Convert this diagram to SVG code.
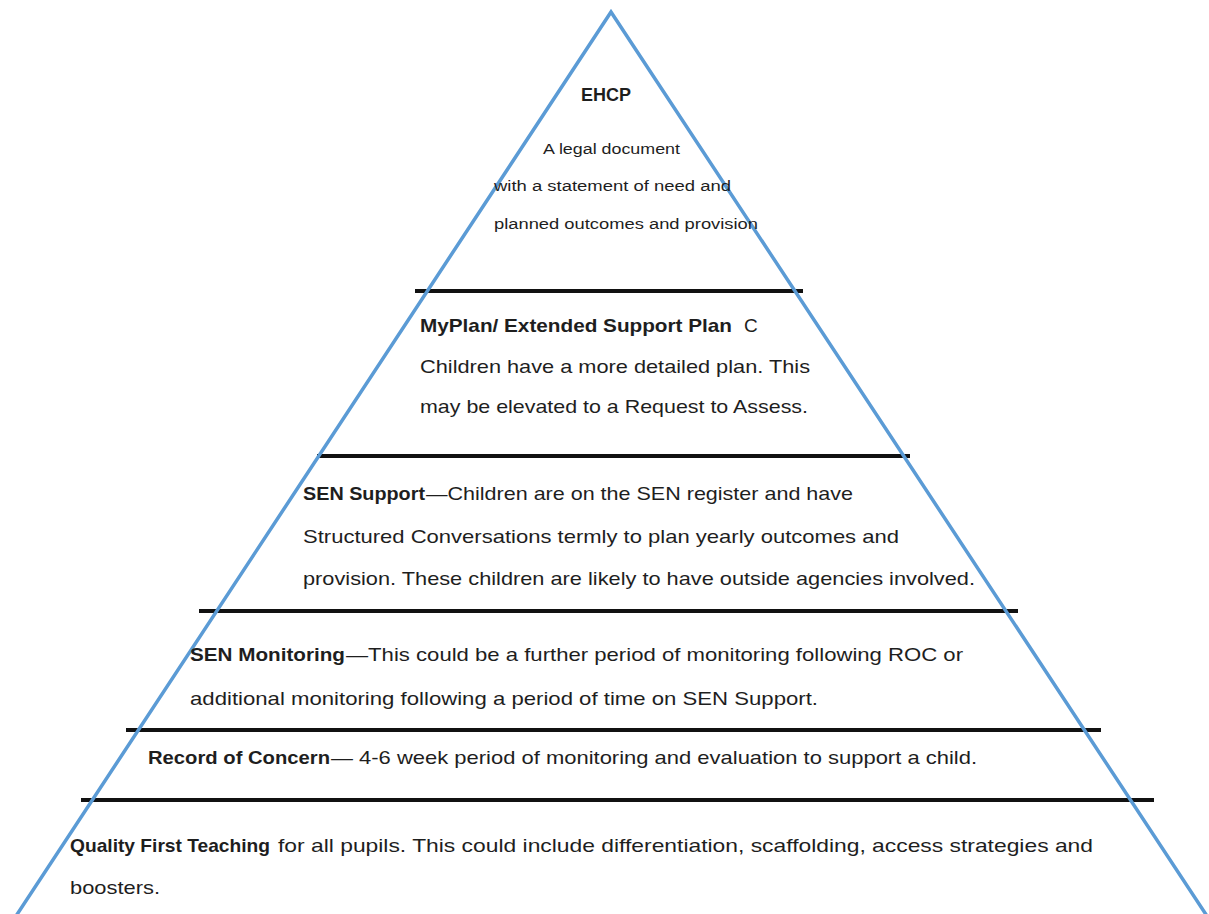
<svg xmlns="http://www.w3.org/2000/svg" width="1209" height="914" viewBox="0 0 1209 914">
<style>
.t{font-family:"Liberation Sans",Arial,sans-serif;fill:#1e1e1e;font-size:19px}
.s{font-size:14px}
.b{font-weight:bold}
.sep{stroke:#111;stroke-width:4;fill:none}
.tri{stroke:#5b9bd5;stroke-width:3.5;fill:none}
</style>
<rect width="1209" height="914" fill="#fff"/>
<g id="connectors">
<line class="sep" x1="415" y1="291" x2="803" y2="291"/>
<line class="sep" x1="317" y1="456" x2="910" y2="456"/>
<line class="sep" x1="199" y1="611" x2="1018" y2="611"/>
<line class="sep" x1="126" y1="730" x2="1101" y2="730"/>
<line class="sep" x1="81" y1="800" x2="1154" y2="800"/>
<polyline class="tri" points="16,916 611,12 1207,916"/>
</g>
<g id="ehcp">
<text class="t b" x="581" y="101" font-size="17" textLength="50" lengthAdjust="spacingAndGlyphs">EHCP</text>
<text class="t s" x="543" y="154" textLength="137" lengthAdjust="spacingAndGlyphs">A legal document</text>
<text class="t s" x="494" y="191" textLength="237" lengthAdjust="spacingAndGlyphs">with a statement of need and</text>
<text class="t s" x="494" y="229" textLength="264" lengthAdjust="spacingAndGlyphs">planned outcomes and provision</text>
</g>
<g id="myplan">
<text class="t b" x="420" y="332" textLength="312" lengthAdjust="spacingAndGlyphs">MyPlan/ Extended Support Plan</text>
<text class="t" x="744" y="332">C</text>
<text class="t" x="420" y="373" textLength="390" lengthAdjust="spacingAndGlyphs">Children have a more detailed plan. This</text>
<text class="t" x="420" y="413" textLength="388" lengthAdjust="spacingAndGlyphs">may be elevated to a  Request to Assess.</text>
</g>
<g id="sen-support">
<text class="t b" x="303" y="500" textLength="122" lengthAdjust="spacingAndGlyphs">SEN Support</text>
<text class="t" x="426" y="500" textLength="427" lengthAdjust="spacingAndGlyphs">—Children are on the SEN register and have</text>
<text class="t" x="303" y="543" textLength="596" lengthAdjust="spacingAndGlyphs">Structured Conversations termly to plan yearly outcomes and</text>
<text class="t" x="303" y="585" textLength="672" lengthAdjust="spacingAndGlyphs">provision. These children are likely to have outside agencies involved.</text>
</g>
<g id="sen-monitoring">
<text class="t b" x="190" y="661" textLength="155" lengthAdjust="spacingAndGlyphs">SEN Monitoring</text>
<text class="t" x="346" y="661" textLength="617" lengthAdjust="spacingAndGlyphs">—This could be a further period of monitoring following  ROC or</text>
<text class="t" x="190" y="705" textLength="628" lengthAdjust="spacingAndGlyphs">additional monitoring following a period of time on SEN Support.</text>
</g>
<g id="record-of-concern">
<text class="t b" x="148" y="764" textLength="182" lengthAdjust="spacingAndGlyphs">Record of Concern</text>
<text class="t" x="331" y="764" textLength="646" lengthAdjust="spacingAndGlyphs">— 4-6 week period of monitoring and evaluation to support a child.</text>
</g>
<g id="quality-first-teaching">
<text class="t b" x="70" y="852" textLength="200" lengthAdjust="spacingAndGlyphs">Quality First Teaching</text>
<text class="t" x="278" y="852" textLength="815" lengthAdjust="spacingAndGlyphs">for all pupils. This could include differentiation, scaffolding, access strategies and</text>
<text class="t" x="70" y="894" textLength="90" lengthAdjust="spacingAndGlyphs">boosters.</text>
</g>
</svg>
